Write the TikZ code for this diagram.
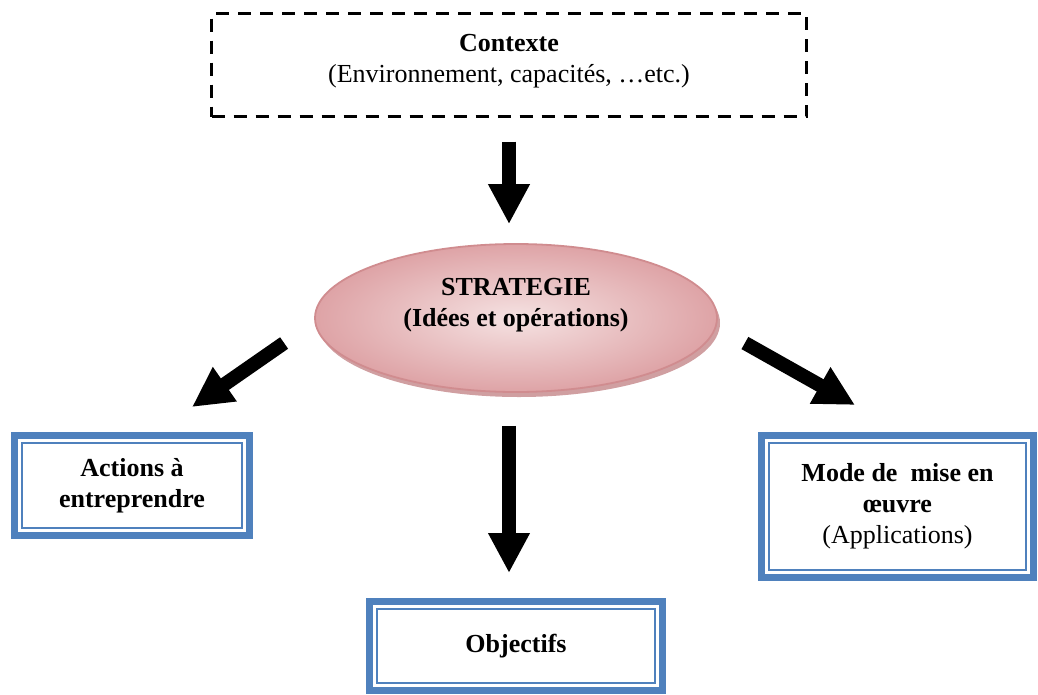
\documentclass[tikz,border=0pt]{standalone}
\usepackage{fontspec}
\setmainfont{Liberation Serif}
\usetikzlibrary{shapes.geometric, arrows.meta, shadows}

\definecolor{boxblue}{HTML}{4F81BD}
\definecolor{pinkedge}{HTML}{D08C8F}
\definecolor{pinklight}{HTML}{F5E2E2}
\definecolor{pinkdark}{HTML}{DEA3A6}
\definecolor{pinkshadow}{HTML}{C4878A}

\tikzstyle{context} = [
	rectangle,
	minimum width=595pt,
	minimum height=103pt,
	outer sep=0pt,
	draw=black,
	line width=2.8pt,
	dash pattern=on 13pt off 9pt]
\tikzstyle{strategie} = [
	ellipse,
	minimum width=402pt,
	minimum height=148pt,
	inner sep=0pt,
	draw=pinkedge,
	line width=1.8pt,
	inner color=pinklight,
	outer color=pinkdark,
	drop shadow={shadow xshift=3pt, shadow yshift=-5pt, fill=pinkshadow, opacity=0.8}]
\tikzstyle{bluebox} = [
	rectangle,
	outer sep=0pt,
	align=center,
	text centered,
	draw=boxblue,
	line width=7pt,
	fill=white,
	font=\fontsize{26}{31}\selectfont\bfseries]
\tikzstyle{innerline} = [draw=boxblue, line width=2.3pt]
\tikzstyle{bigarrow} = [line width=14pt, -{Triangle[width=39pt, length=40pt]}]

\begin{document}
\begin{tikzpicture}[x=1pt, y=-1pt, font=\fontsize{26}{31}\selectfont]
\useasboundingbox (0,0) rectangle (1038,694);

% --- Nodes ---
\node (ctx) [context] at (509,65) {};
\node (ctxtext) [align=center] at ([yshift=4pt]ctx.center) {\textbf{Contexte}\\(Environnement, capacités, …etc.)};

\node (strat) [strategie] at (516,318) {};
\node (strattext) [align=center, font=\fontsize{26}{31}\selectfont\bfseries] at ([yshift=13pt]strat.center) {STRATEGIE\\(Idées et opérations)};

\node (actions) [bluebox, minimum width=235pt, minimum height=100pt] at (132,485.5) {Actions à\\entreprendre};
\node (mode) [bluebox, minimum width=272pt, minimum height=142pt] at (897.5,506.5) {Mode de\ \ mise en\\œuvre\\\mdseries(Applications)};
\node (obj) [bluebox, minimum width=293pt, minimum height=89pt] at (516,646) {Objectifs};

% double frame of the blue boxes
\foreach \n in {actions, mode, obj}
	\draw [innerline] ([shift={(7.5pt,-7.5pt)}]\n.north west) rectangle ([shift={(-7.5pt,7.5pt)}]\n.south east);

% --- Arrows ---
\draw [bigarrow] ([yshift=-25pt]ctx.south) -- ([shift={(-7pt,19pt)}]strat.north);
\draw [bigarrow] ([shift={(-30pt,-25pt)}]strat.west) -- ([shift={(60pt,28.5pt)}]actions.north);
\draw [bigarrow] ([shift={(27pt,-25pt)}]strat.east) -- ([shift={(-42.5pt,30.5pt)}]mode.north);
\draw [bigarrow] ([shift={(-7pt,-33pt)}]strat.south) -- ([shift={(-7pt,28.5pt)}]obj.north);

\end{tikzpicture}
\end{document}
